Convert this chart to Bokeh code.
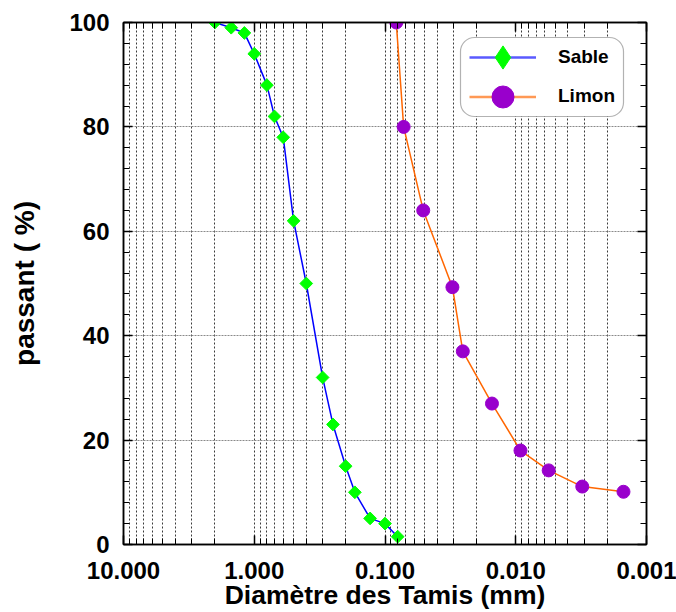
import math
from bokeh.plotting import figure
from bokeh.models import (Range1d, FixedTicker, PrintfTickFormatter, LinearAxis, LogAxis,
                          Legend, LegendItem, ColumnDataSource, BoxAnnotation,
                          CustomJSTickFormatter)
from bokeh.embed import file_html
from bokeh.resources import INLINE

# Sieve analysis: diameter (mm) vs percentage passing
sable_d = [2.0, 1.5, 1.19, 1.0, 0.8, 0.7, 0.6, 0.5, 0.4, 0.3, 0.25, 0.2, 0.17, 0.13, 0.1, 0.08]
sable_p = [100, 99, 98, 94, 88, 82, 78, 62, 50, 32, 23, 15, 10, 5, 4, 1.5]

limon_d = [0.082, 0.072, 0.051, 0.0305, 0.0254, 0.0152, 0.0092, 0.0056, 0.0031, 0.0015]
limon_p = [100, 80, 64, 49.3, 37, 27, 18, 14.2, 11.1, 10.1]

x_major = [10, 1, 0.1, 0.01, 0.001]
x_minor = [k * 10.0 ** e for e in (-3, -2, -1, 0) for k in range(2, 10)]
y_major = [0, 20, 40, 60, 80, 100]
y_minor = list(range(0, 101, 4))

FONT = "Liberation Sans"

p = figure(width=676, height=612, x_axis_type="log",
           x_range=Range1d(10, 0.001), y_range=Range1d(0, 100),
           output_backend="svg", toolbar_location=None,
           min_border_left=123, min_border_right=30, min_border_top=22, min_border_bottom=68,
           background_fill_color="white", border_fill_color="white")
p.outline_line_color = "black"
p.outline_line_width = 1.5

xt = FixedTicker(ticks=x_major, minor_ticks=x_minor)
yt = FixedTicker(ticks=y_major, minor_ticks=y_minor)

xa = p.xaxis[0]
xa.ticker = xt
xa.formatter = PrintfTickFormatter(format="%.3f")
xa.major_label_standoff = 17
xa.axis_label = "Diamètre des Tamis (mm)"
xa.axis_label_text_font_size = "26.5px"
xa.axis_label_standoff = -2

ya = p.yaxis[0]
ya.ticker = yt
ya.major_label_standoff = 14
ya.axis_label = "passant ( %)"
ya.axis_label_text_font_size = "28px"
ya.axis_label_standoff = 26

for ax in (xa, ya):
    ax.axis_label_text_font = FONT
    ax.axis_label_text_font_style = "bold"
    ax.axis_label_text_color = "black"
    ax.major_label_text_font = FONT
    ax.major_label_text_font_style = "bold"
    ax.major_label_text_font_size = "24px"
    ax.major_label_text_color = "black"
    ax.axis_line_color = "black"
    ax.axis_line_width = 1.5
    ax.major_tick_in = 9
    ax.major_tick_out = 0
    ax.minor_tick_in = 6
    ax.minor_tick_out = 0
    ax.major_tick_line_color = "black"
    ax.minor_tick_line_color = "black"
    ax.major_tick_line_width = 1.5

blank = CustomJSTickFormatter(code="return ''")
top = LogAxis(ticker=xt, formatter=blank, major_label_standoff=0,
              major_tick_in=9, major_tick_out=0, minor_tick_in=6, minor_tick_out=0,
              axis_line_width=1.5, major_tick_line_width=1.5)
right = LinearAxis(ticker=yt, formatter=blank, major_label_standoff=0,
                   major_tick_in=9, major_tick_out=0, minor_tick_in=6, minor_tick_out=0,
                   axis_line_width=1.5, major_tick_line_width=1.5)
p.add_layout(top, "above")
p.add_layout(right, "right")

# grids
p.xgrid.ticker = xt
p.xgrid.grid_line_color = "#3a3a3a"
p.xgrid.grid_line_dash = "2 2"
p.xgrid.grid_line_width = 1
p.xgrid.minor_grid_line_color = "#3a3a3a"
p.xgrid.minor_grid_line_dash = "2 2"
p.xgrid.minor_grid_line_width = 1
p.ygrid.ticker = FixedTicker(ticks=y_major)
p.ygrid.grid_line_color = "#8a8a8a"
p.ygrid.grid_line_dash = "2 1"
p.ygrid.grid_line_width = 1.2

sable = ColumnDataSource(dict(d=sable_d, p=sable_p))
limon = ColumnDataSource(dict(d=limon_d, p=limon_p))

p.line("d", "p", source=sable, line_color="#0000FF", line_width=1.5)
p.scatter("d", "p", source=sable, marker="square", angle=math.pi / 4, size=9,
          fill_color="#00FF00", line_color="#00FF00")
p.line("d", "p", source=limon, line_color="#FF6600", line_width=1.5)
p.scatter("d", "p", source=limon, marker="circle", size=13,
          fill_color="#9900CC", line_color="#9900CC")

# legend swatches: hidden renderers, drawn only inside the legend
ksl = p.line("d", "p", source=sable, line_color="#5A5AFF", line_width=2.5, visible=False)
ks = p.scatter("d", "p", source=sable, marker="diamond",
               fill_color="#00FF00", line_color="#00FF00", visible=False)
kll = p.line("d", "p", source=limon, line_color="#FF9955", line_width=2.5, visible=False)
kl = p.scatter("d", "p", source=limon, marker="circle",
               fill_color="#9900CC", line_color="#9900CC", visible=False)

box = BoxAnnotation(left=460, right=623, top=37, bottom=116,
                    left_units="canvas", right_units="canvas",
                    top_units="canvas", bottom_units="canvas",
                    fill_color="white", fill_alpha=1, line_color="black", line_width=1.2,
                    border_radius=14)
p.add_layout(box)

common = dict(glyph_width=67, padding=0, margin=0, label_standoff=22,
              label_text_font=FONT, label_text_font_style="bold", label_text_font_size="19px",
              label_text_color="black", border_line_color=None, background_fill_alpha=0)
leg1 = Legend(items=[LegendItem(label="Sable", renderers=[ksl, ks])],
              location=(346, 544 - 57 - 29), glyph_height=58, **common)
leg2 = Legend(items=[LegendItem(label="Limon", renderers=[kll, kl])],
              location=(346, 544 - 96 - 27.5), glyph_height=55, **common)
p.add_layout(leg1)
p.add_layout(leg2)

open("out.html", "w").write(file_html(p, INLINE))
